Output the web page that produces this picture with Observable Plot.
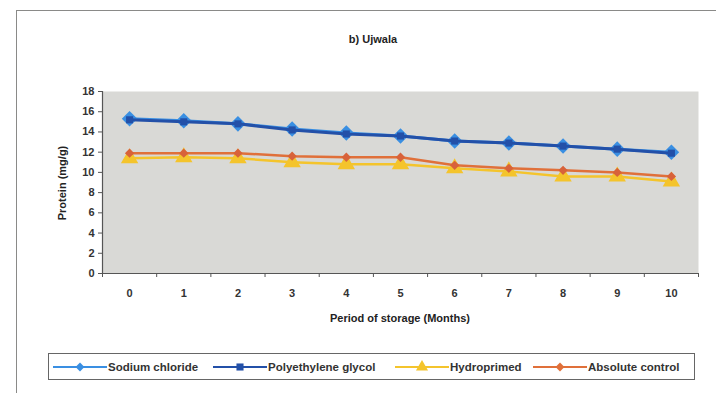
<!DOCTYPE html>
<html><head><meta charset="utf-8">
<script src="https://cdn.jsdelivr.net/npm/d3@7"></script>
<script src="https://cdn.jsdelivr.net/npm/@observablehq/plot@0.6"></script>
<style>
body{margin:0;background:#fff;font-family:"Liberation Sans",Arial,sans-serif;}
#wrap{position:relative;width:716px;height:393px;overflow:hidden;background:#fff;}
#wrap svg{position:absolute;left:0;top:0;}
.outer{position:absolute;left:16px;top:10px;width:720px;height:400px;border:1.5px solid #8a8a88;box-sizing:border-box;}
.t{position:absolute;color:#222;white-space:nowrap;}
.legend{position:absolute;left:48px;top:353px;width:647px;height:27px;border:1.5px solid #666;box-sizing:border-box;}
.legend .item{position:absolute;top:4px;height:18px;display:flex;align-items:center;font-size:11.5px;font-weight:bold;color:#333;}
.legend svg{position:static!important;}
</style></head><body>
<div id="wrap"><div class="outer"></div></div>
<script>
const months = [0,1,2,3,4,5,6,7,8,9,10];
const boundaries = [-0.5,0.5,1.5,2.5,3.5,4.5,5.5,6.5,7.5,8.5,9.5,10.5];
const yTicks = [0,2,4,6,8,10,12,14,16,18];
const seriesNames = ["Sodium chloride","Polyethylene glycol","Hydroprimed","Absolute control"];
const sodiumChloride     = [15.3,15.1,14.8,14.3,13.9,13.6,13.1,12.9,12.6,12.3,12.0];
const polyethyleneGlycol = [15.2,15.0,14.8,14.2,13.8,13.6,13.1,12.9,12.6,12.3,11.9];
const hydroprimed        = [11.4,11.5,11.4,11.0,10.8,10.8,10.4,10.1,9.6,9.6,9.1];
const absoluteControl    = [11.9,11.9,11.9,11.6,11.5,11.5,10.7,10.4,10.2,10.0,9.6];

const colors = {nacl:"#3a8fe2", peg:"#2350a8", hydro:"#f4c42c", ctrl:"#e0703a"};
const rows = (vals) => months.map((m,i)=>({m, v: vals[i]}));

const chart = Plot.plot({
  width: 716, height: 393,
  marginLeft: 102, marginRight: 18, marginTop: 91, marginBottom: 120,
  style: {background: "transparent", fontFamily: "Liberation Sans, Arial, sans-serif"},
  x: {type: "linear", domain: [-0.5, 10.5], axis: null},
  y: {domain: [0, 18], axis: null},
  marks: [
    Plot.frame({fill: "#d9d9d6", stroke: null}),
    Plot.ruleY([0], {stroke: "#555", strokeWidth: 1.2}),
    Plot.ruleX([-0.5], {stroke: "#555", strokeWidth: 1.2}),
    Plot.axisY({ticks: yTicks, tickSize: 4, tickPadding: 4, fontSize: 11, fontWeight: "bold", label: null, stroke: "#555", color: "#333"}),
    Plot.axisX({ticks: boundaries, tickSize: 4, tickFormat: () => "", label: null, stroke: "#555"}),
    Plot.axisX({ticks: months, tickSize: 0, tickPadding: 16, fontSize: 11, fontWeight: "bold", label: null, color: "#333"}),
    Plot.lineY(rows(sodiumChloride), {x: "m", y: "v", stroke: colors.nacl, strokeWidth: 3}),
    Plot.lineY(rows(hydroprimed), {x: "m", y: "v", stroke: colors.hydro, strokeWidth: 2.5}),
    Plot.dot(rows(hydroprimed), {x: "m", y: "v", symbol: "triangle", r: 5.5, fill: colors.hydro, stroke: colors.hydro}),
    Plot.lineY(rows(absoluteControl), {x: "m", y: "v", stroke: colors.ctrl, strokeWidth: 2.5}),
    Plot.dot(rows(absoluteControl), {x: "m", y: "v", symbol: "diamond2", r: 4.2, fill: "#d8623a"}),
    Plot.dot(rows(sodiumChloride), {x: "m", y: "v", symbol: "diamond2", r: 7, fill: colors.nacl}),
    Plot.lineY(rows(polyethyleneGlycol), {x: "m", y: "v", stroke: colors.peg, strokeWidth: 3}),
    Plot.dot(rows(polyethyleneGlycol), {x: "m", y: "v", symbol: "square", r: 4, fill: colors.peg})
  ]
});
const wrap = document.getElementById("wrap");
wrap.appendChild(chart);

function addText(txt, css){
  const d = document.createElement("div");
  d.className = "t"; d.textContent = txt; d.style.cssText = css; wrap.appendChild(d);
}
addText("b) Ujwala", "left:373px;top:39px;transform:translate(-50%,-50%);font-size:11px;font-weight:bold;");
addText("Period of storage (Months)", "left:400px;top:318px;transform:translate(-50%,-50%);font-size:11px;font-weight:bold;");
addText("Protein (mg/g)", "left:62px;top:183px;transform:translate(-50%,-50%) rotate(-90deg);font-size:11px;font-weight:bold;");

// legend
const leg = document.createElement("div"); leg.className = "legend"; wrap.appendChild(leg);
const legendItems = [
  {name: seriesNames[0], color: colors.nacl, sym: "diamond2", r: 4, left: 4},
  {name: seriesNames[1], color: colors.peg, sym: "square", r: 4, left: 164},
  {name: seriesNames[2], color: colors.hydro, sym: "triangle", r: 4.5, left: 346},
  {name: seriesNames[3], color: colors.ctrl, sym: "diamond2", r: 4, left: 484}
];
legendItems.forEach(it => {
  const item = document.createElement("div"); item.className = "item"; item.style.left = it.left + "px";
  const sym = d3.symbol(Plot.symbol ? undefined : undefined);
  const symType = {diamond2: d3.symbolDiamond2, square: d3.symbolSquare, triangle: d3.symbolTriangle}[it.sym];
  const path = d3.symbol(symType, Math.PI * it.r * it.r)();
  item.innerHTML = `<svg width="54" height="18" viewBox="0 0 54 18"><line x1="0" y1="9" x2="54" y2="9" stroke="${it.color}" stroke-width="2"/><path d="${path}" transform="translate(27,9)" fill="${it.color}"/></svg><span style="margin-left:1px">${it.name}</span>`;
  leg.appendChild(item);
});
</script>
</body></html>
